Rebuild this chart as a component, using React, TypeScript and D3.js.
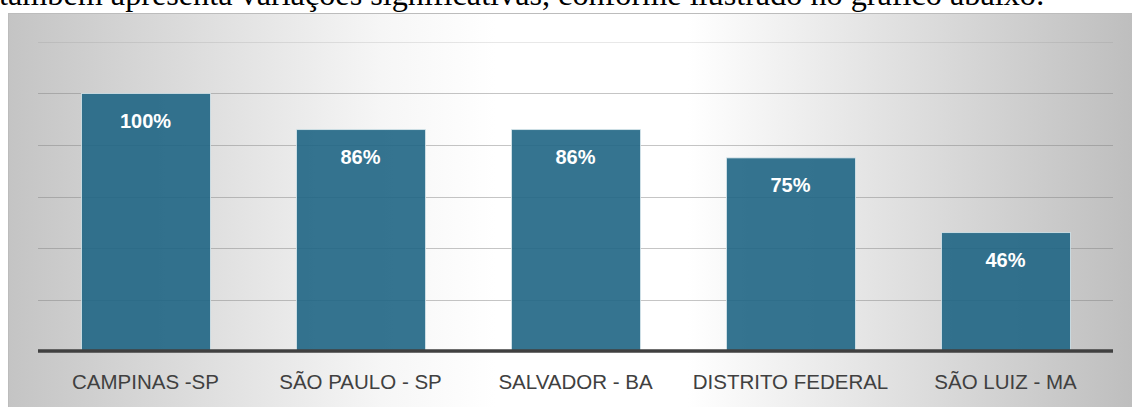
import React, { useLayoutEffect, useRef, useState } from "react";
import * as d3 from "d3";

const categories = ["CAMPINAS -SP", "SÃO PAULO - SP", "SALVADOR - BA", "DISTRITO FEDERAL", "SÃO LUIZ - MA"];
const values = [100, 86, 86, 75, 46];
const valueLabels = ["100%", "86%", "86%", "75%", "46%"];
const tickValues = [0, 20, 40, 60, 80, 100, 120];
const caption = "também apresenta variações significativas, conforme ilustrado no gráfico abaixo:";

const W = 1132;
const H = 407;

export default function App() {
  const x = d3.scaleBand<string>().domain(categories).range([38, 1113]).paddingInner(0.4).paddingOuter(0.2);
  const y = d3.scaleLinear().domain([0, 120]).range([351, 42]);
  const bw = x.bandwidth();
  const capRef = useRef<SVGTextElement>(null);
  const [capSize, setCapSize] = useState(24);

  useLayoutEffect(() => {
    const el = capRef.current;
    if (!el) return;
    const len = el.getComputedTextLength();
    if (len > 0) {
      const target = 1046;
      const next = (capSize * target) / len;
      if (Math.abs(next - capSize) > 0.05) setCapSize(next);
    }
  }, [capSize]);

  return (
    <svg width={W} height={H} style={{ position: "absolute", left: 0, top: 0 }}>
      <defs>
        <linearGradient id="bg" x1="0" y1="0" x2="1" y2="0">
          <stop offset="0" stopColor="#c4c4c4" />
          <stop offset="0.33" stopColor="#f6f6f6" />
          <stop offset="0.43" stopColor="#ffffff" />
          <stop offset="0.6" stopColor="#ffffff" />
          <stop offset="0.7" stopColor="#eeeeee" />
          <stop offset="1" stopColor="#bdbdbd" />
        </linearGradient>
      </defs>
      <rect x={0} y={0} width={W} height={H} fill="#ffffff" />
      <text ref={capRef} x={-1} y={5} fontFamily="'Liberation Serif', 'Times New Roman', serif" fontSize={capSize}
        fill="#000">{caption}</text>
      <rect x={8.5} y={13.5} width={W} height={H} fill="url(#bg)" stroke="#bcbcbc" strokeWidth={1} />
      {tickValues.filter((t) => t > 0).map((t) => (
        <line key={t} x1={38} x2={1113} y1={Math.round(y(t)) + 0.5} y2={Math.round(y(t)) + 0.5}
          stroke="#7f7f7f" strokeOpacity={t === 120 ? 0.18 : 0.45} strokeWidth={1} />
      ))}
      {categories.map((c, i) => (
        <g key={c}>
          <rect x={x(c)! + 0.5} y={y(values[i])} width={bw} height={y(0) - y(values[i])}
            fill="#1f6584" fillOpacity={0.9} stroke="#dbe8ee" strokeOpacity={0.8} strokeWidth={1} />
          <text x={x(c)! + bw / 2} y={y(values[i]) + 34} textAnchor="middle" fill="#ffffff"
            fontFamily="'Liberation Sans', Arial, sans-serif" fontWeight={700} fontSize={20}>{valueLabels[i]}</text>
          <text x={x(c)! + bw / 2} y={389} textAnchor="middle" fill="#404040"
            fontFamily="'Liberation Sans', Arial, sans-serif" fontSize={20.5}>{c}</text>
        </g>
      ))}
      <line x1={38} x2={1113} y1={y(0)} y2={y(0)} stroke="#404040" strokeWidth={3.5} />
    </svg>
  );
}
